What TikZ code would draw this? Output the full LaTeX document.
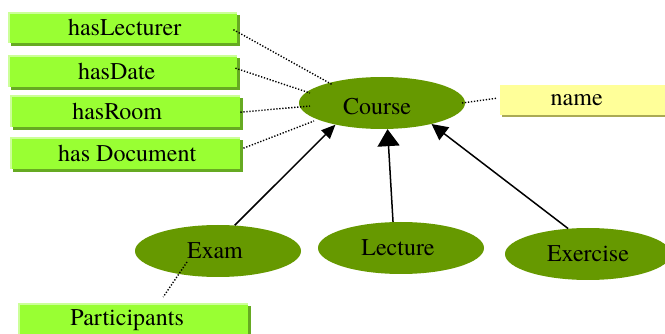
\documentclass[tikz,border=0pt]{standalone}
\usepackage{fontspec}
\newfontfamily\diagfont{texgyretermes}[Extension=.otf, UprightFont=*-regular]
\usetikzlibrary{arrows.meta,calc,shadows,shapes.geometric}
\definecolor{boxgreen}{HTML}{99FF33}
\definecolor{boxshadow}{HTML}{66AA22}
\definecolor{boxlight}{HTML}{CCFF99}
\definecolor{ellgreen}{HTML}{669900}
\definecolor{nameyellow}{HTML}{FFFF99}
\definecolor{yshadow}{HTML}{AAAA55}
\newcommand{\txtshiftx}[2]{\hspace*{#1}#2}
\begin{document}
\begin{tikzpicture}[x=1pt,y=-1pt,font=\diagfont\fontsize{24}{28}\selectfont,
  propbox/.style={rectangle, fill=boxgreen, inner sep=0pt, anchor=north west,
    general shadow={fill=boxshadow, shadow xshift=3pt, shadow yshift=-3pt},
    path picture={\draw[boxlight, line width=3pt]
      (path picture bounding box.south west) -- (path picture bounding box.north west)
      -- (path picture bounding box.north east);}},
  namebox/.style={rectangle, fill=nameyellow, inner sep=0pt, anchor=north west,
    general shadow={fill=yshadow, shadow xshift=2pt, shadow yshift=-2pt}},
  cls/.style={ellipse, fill=ellgreen, inner sep=0pt, minimum width=166pt, minimum height=52pt},
  dotline/.style={line width=1.4pt, dash pattern=on 1.3pt off 1.7pt},
  isa/.style={line width=1.5pt}
]
\useasboundingbox (0,0) rectangle (665,334);

% property boxes
\node[propbox, minimum width=229pt, minimum height=31pt] (lect) at (8,12) {\txtshiftx{4pt}{hasLecturer}};
\node[propbox, minimum width=229pt, minimum height=32pt] (date) at (8,55) {\txtshiftx{-12pt}{hasDate}};
\node[propbox, minimum width=230pt, minimum height=32pt] (room) at (10,95) {\txtshiftx{-16pt}{hasRoom}};
\node[propbox, minimum width=230pt, minimum height=32pt] (doc) at (10,137) {\txtshiftx{4pt}{has Document}};
\node[propbox, minimum width=230pt, minimum height=34pt] (part) at (18,303) {\txtshiftx{-12pt}{Participants}};
\node[namebox, minimum width=165pt, minimum height=30pt] (name) at (500,85) {\txtshiftx{-12pt}{name}};

% classes
\node[cls, text height=24pt] (course) at (382,103) {\txtshiftx{-10pt}{Course}};
\node[cls] (exam) at (218,251) {\txtshiftx{-6pt}{Exam}};
\node[cls] (lecture) at (401,248) {\txtshiftx{-6pt}{Lecture}};
\node[cls] (exercise) at (588,254) {Exercise};

% dotted property links
\draw[dotline] ($(lect.east)+(-4,2)$) -- ($(course.center)+(-49,-18)$);
\draw[dotline] ($(date.east)+(-2,-3)$) -- ($(course.center)+(-72,-10)$);
\draw[dotline] ($(room.east)+(0,1)$) -- ($(course.center)+(-72,3)$);
\draw[dotline] ($(doc.east)+(3,-5)$) -- ($(course.center)+(-68,18)$);
\draw[dotline] ($(course.center)+(80,0)$) -- ($(name.west)+(-3,-2)$);
\draw[dotline] ($(exam.center)+(-31,11)$) -- ($(part.north)+(30,-6)$);

% is-a arrows
\draw[isa, -{Triangle[length=14pt,width=12pt]}] (exam.57) -- (course.205);
\draw[isa, -{Triangle[length=17pt,width=22pt]}] (lecture.107) -- (course.282);
\draw[isa, -{Triangle[length=16pt,width=16pt]}] (exercise.128) -- (course.337);
\end{tikzpicture}
\end{document}
